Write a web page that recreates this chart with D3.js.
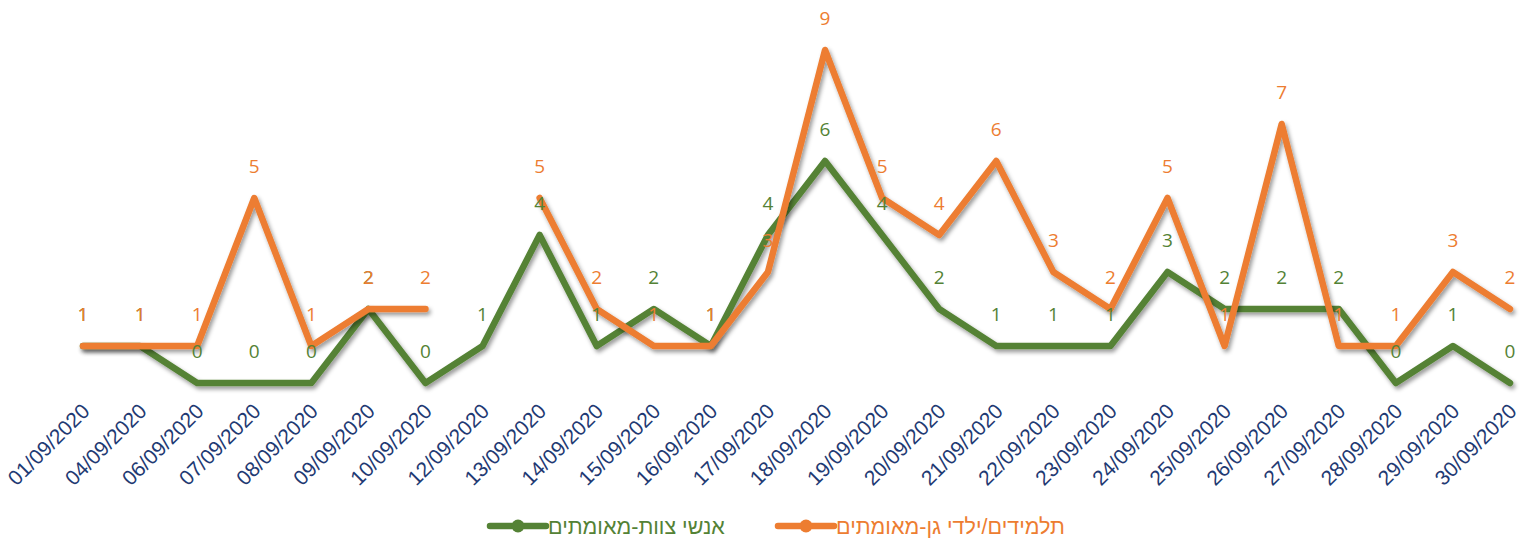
<!DOCTYPE html>
<html>
<head>
<meta charset="utf-8">
<script src="https://cdn.jsdelivr.net/npm/d3@7"></script>
<style>
  body { margin: 0; background: #fff; }
  svg { display: block; }
</style>
</head>
<body>
<div id="chart"></div>
<script>
// category labels (dates)
const dates = ["01/09/2020", "04/09/2020", "06/09/2020", "07/09/2020", "08/09/2020", "09/09/2020",
    "10/09/2020", "12/09/2020", "13/09/2020", "14/09/2020", "15/09/2020", "16/09/2020", "17/09/2020",
    "18/09/2020", "19/09/2020", "20/09/2020", "21/09/2020", "22/09/2020", "23/09/2020", "24/09/2020",
    "25/09/2020", "26/09/2020", "27/09/2020", "28/09/2020", "29/09/2020", "30/09/2020"];

// staff confirmed
const staffValues = [1, 1, 0, 0, 0, 2, 0, 1, 4, 1, 2, 1, 4, 6, 4, 2, 1, 1, 1, 3, 2, 2, 2, 0, 1, 0];
// students / kindergarten kids confirmed (no value on 12/09)
const studentValues = [1, 1, 1, 5, 1, 2, 2, null, 5, 2, 1, 1, 3, 9, 5, 4, 6, 3, 2, 5, 1, 7, 1, 1, 3, 2];

const seriesNames = ["אנשי צוות-מאומתים", "תלמידים/ילדי גן-מאומתים"];

const W = 1530, H = 539;
const COLORS = { staff: "#548235", students: "#ED7D31", axis: "#1F3A73" };

const svg = d3.select("#chart").append("svg")
    .attr("width", W)
    .attr("height", H);

const defs = svg.append("defs");
const shadow = defs.append("filter")
    .attr("id", "shadow")
    .attr("x", "-10%").attr("y", "-10%")
    .attr("width", "120%").attr("height", "130%");
shadow.append("feDropShadow")
    .attr("dx", 2).attr("dy", 3)
    .attr("stdDeviation", 2)
    .attr("flood-color", "#000")
    .attr("flood-opacity", 0.4);

// scales
const x = d3.scalePoint()
    .domain(dates)
    .range([83, 1510]);

const y = d3.scaleLinear()
    .domain([0, 9])
    .range([383, 50]);

// x axis: labels only, rotated
const xAxis = svg.append("g")
    .attr("transform", "translate(0, 400)")
    .call(d3.axisBottom(x).tickSize(0).tickPadding(0));
xAxis.select(".domain").remove();
xAxis.selectAll("text")
    .attr("font-family", "Liberation Sans, Arial, sans-serif")
    .attr("font-size", 21)
    .attr("fill", COLORS.axis)
    .attr("text-anchor", "end")
    .attr("dy", "0.7em")
    .attr("transform", "translate(-3, 2) rotate(-45)");

const line = d3.line()
    .defined(d => d != null)
    .x((d, i) => x(dates[i]))
    .y(d => y(d));

const series = [
    { key: "staff", values: staffValues, color: COLORS.staff },
    { key: "students", values: studentValues, color: COLORS.students }
];

series.forEach(s => {
    svg.append("path")
        .datum(s.values)
        .attr("d", line)
        .attr("fill", "none")
        .attr("stroke", s.color)
        .attr("stroke-width", 6.5)
        .attr("stroke-linejoin", "round")
        .attr("stroke-linecap", "round")
        .attr("filter", "url(#shadow)");
});

// data labels
series.forEach(s => {
    svg.append("g")
        .selectAll("text")
        .data(s.values.map((v, i) => ({ v, date: dates[i] })).filter(d => d.v != null))
        .join("text")
        .attr("x", d => x(d.date))
        .attr("y", d => y(d.v) - 25)
        .attr("text-anchor", "middle")
        .attr("font-family", "Open Sans, sans-serif")
        .attr("font-size", 19)
        .attr("fill", s.color)
        .text(d => d.v);
});

// legend
const legendItems = [
    { name: seriesNames[0], color: COLORS.staff, x: 490 },
    { name: seriesNames[1], color: COLORS.students, x: 778 }
];
const legend = svg.append("g").attr("transform", "translate(0, 526)");
legendItems.forEach(item => {
    const g = legend.append("g").attr("transform", `translate(${item.x}, 0)`);
    g.append("line")
        .attr("x1", 0).attr("x2", 56)
        .attr("y1", 0).attr("y2", 0)
        .attr("stroke", item.color)
        .attr("stroke-width", 6.5)
        .attr("stroke-linecap", "round");
    g.append("circle")
        .attr("cx", 28).attr("cy", 0)
        .attr("r", 6.5)
        .attr("fill", item.color);
    g.append("text")
        .attr("x", 58)
        .attr("y", 7.5)
        .attr("direction", "rtl")
        .attr("text-anchor", "end")
        .attr("font-family", "Liberation Sans, Arial, sans-serif")
        .attr("font-size", 21.5)
        .attr("fill", item.color)
        .text(item.name);
});
</script>
</body>
</html>
